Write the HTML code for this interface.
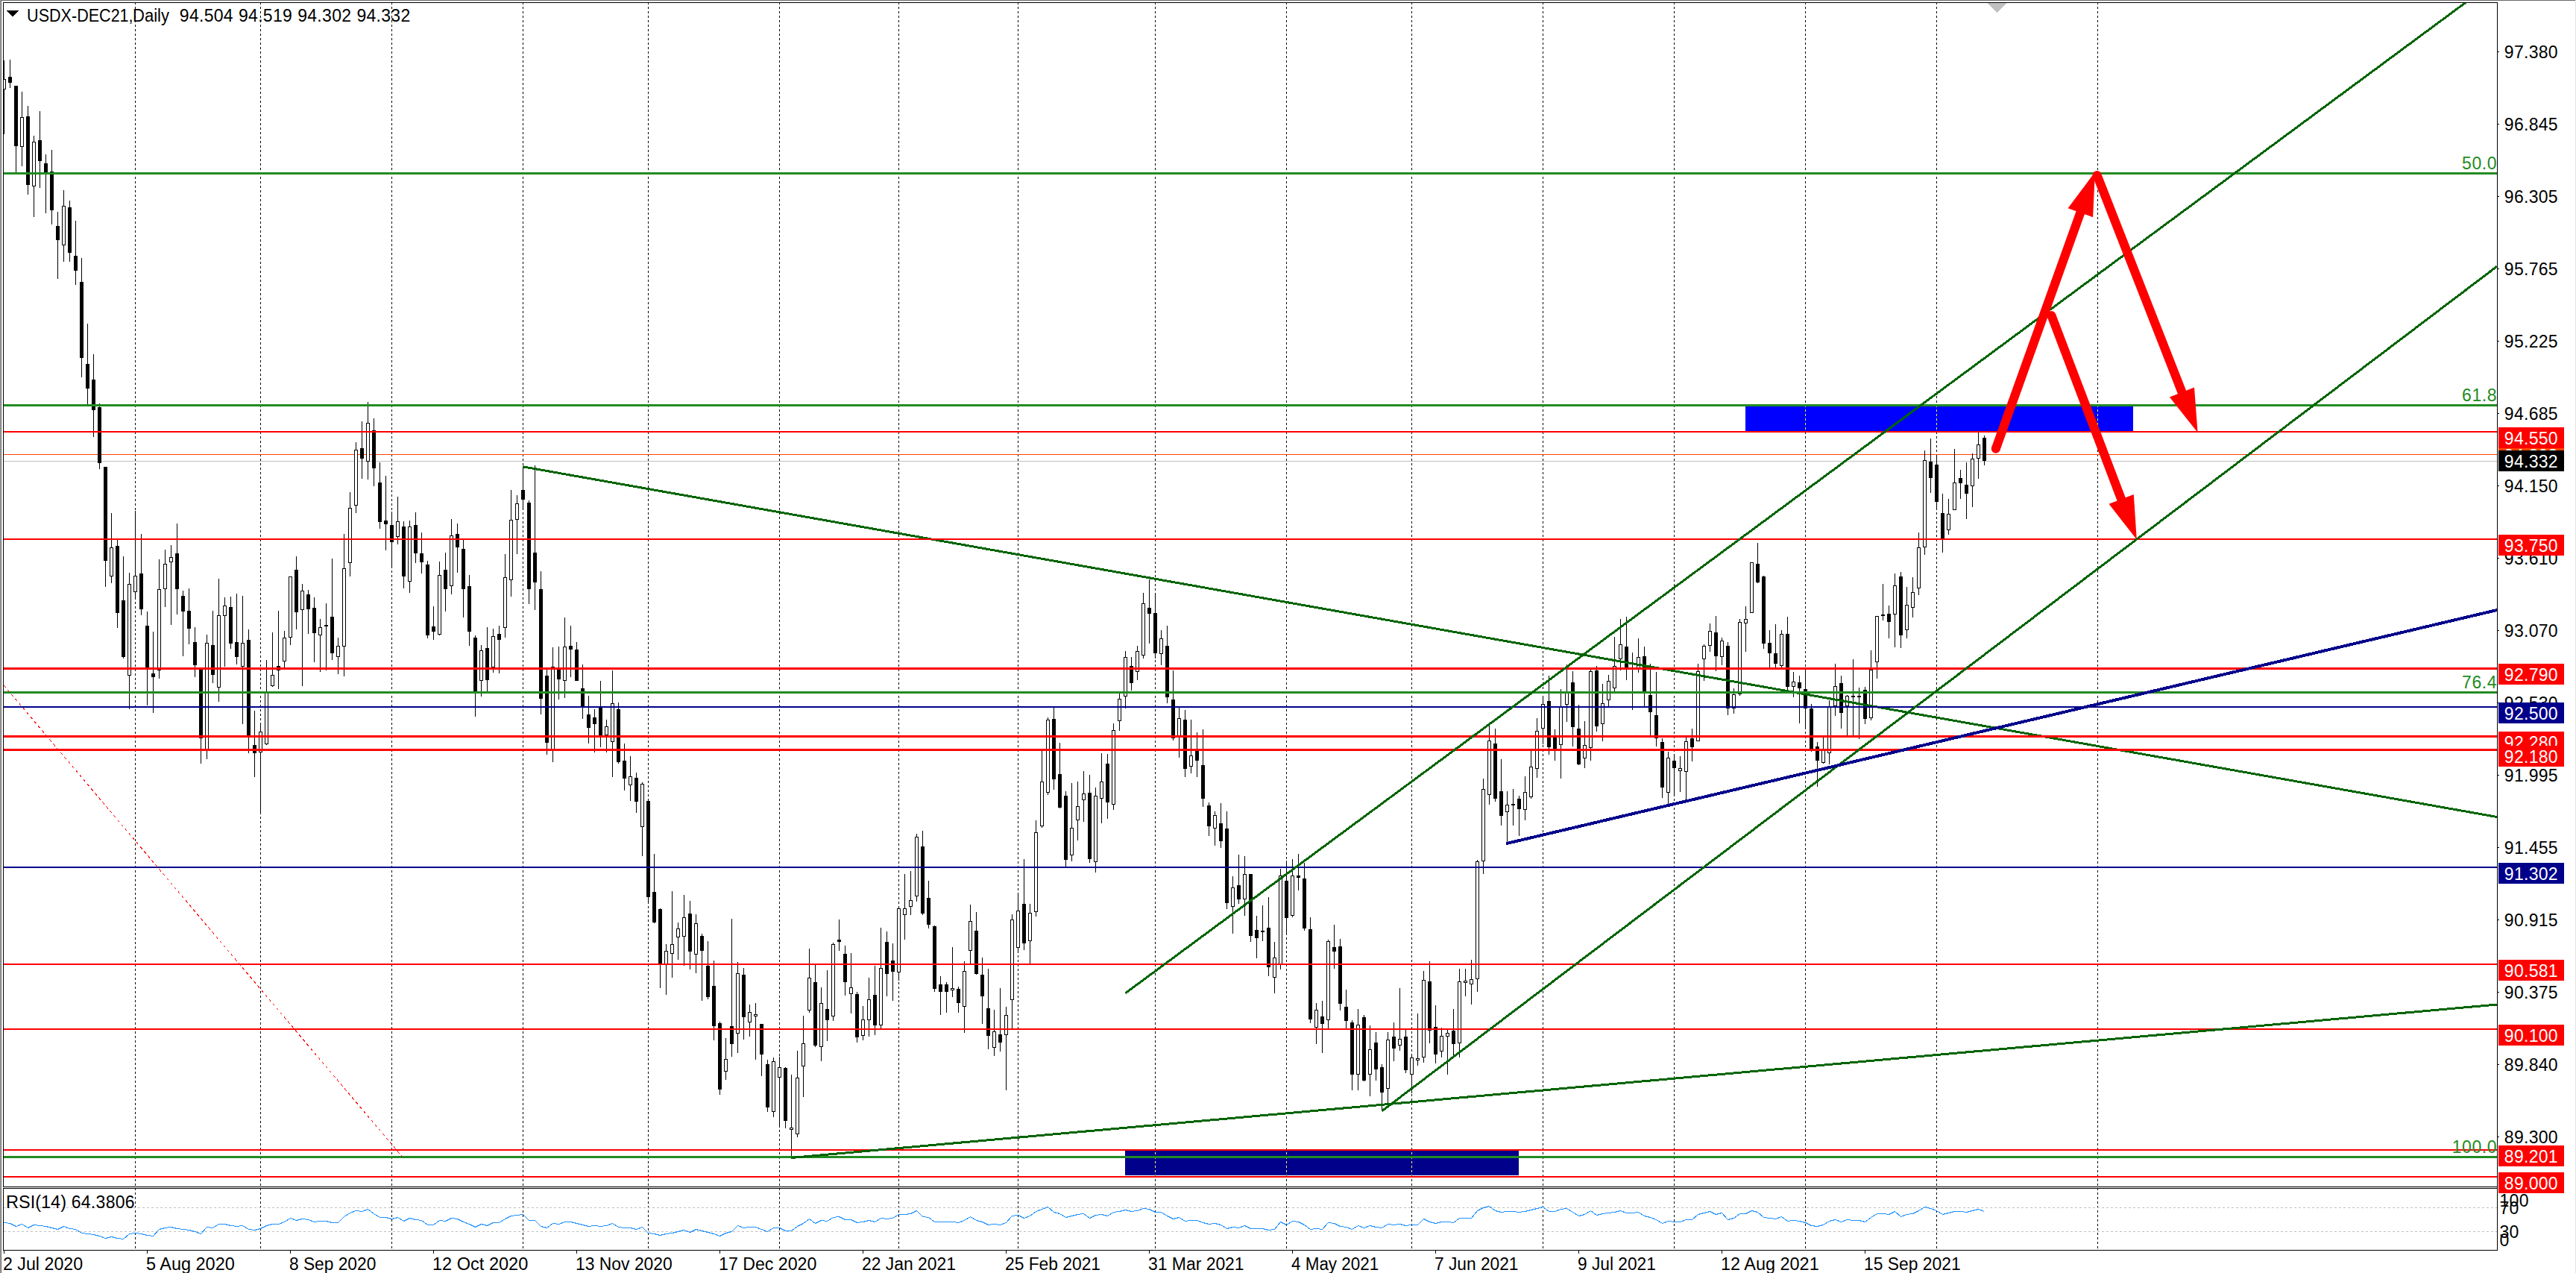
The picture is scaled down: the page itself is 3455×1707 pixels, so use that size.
<!DOCTYPE html>
<html><head><meta charset="utf-8"><title>USDX-DEC21 Daily</title>
<style>html,body{margin:0;padding:0;background:#fff}body{width:3455px;height:1707px;overflow:hidden;font-family:"Liberation Sans",sans-serif}</style>
</head><body>
<svg width="3455" height="1707" viewBox="0 0 3455 1707" style="display:block">
<rect width="3455" height="1707" fill="#fff"/>
<g shape-rendering="crispEdges">
<rect x="0" y="0" width="3455" height="1" fill="#696969"/>
<rect x="0" y="0" width="1" height="1707" fill="#a0a0a0"/>
<rect x="1" y="0" width="1" height="1707" fill="#696969"/>
<rect x="3454" y="0" width="1" height="1707" fill="#e3e3e3"/>
<rect x="2341" y="545" width="520" height="33" fill="#0000ff"/>
<rect x="1509" y="1543" width="528" height="33" fill="#00008b"/>
<path d="M181.5 3V1591M181.5 1593V1676" stroke="#000" stroke-width="1" stroke-dasharray="3 3" fill="none"/>
<path d="M349.5 3V1591M349.5 1593V1676" stroke="#000" stroke-width="1" stroke-dasharray="3 3" fill="none"/>
<path d="M525.5 3V1591M525.5 1593V1676" stroke="#000" stroke-width="1" stroke-dasharray="3 3" fill="none"/>
<path d="M701.5 3V1591M701.5 1593V1676" stroke="#000" stroke-width="1" stroke-dasharray="3 3" fill="none"/>
<path d="M869.5 3V1591M869.5 1593V1676" stroke="#000" stroke-width="1" stroke-dasharray="3 3" fill="none"/>
<path d="M1045.5 3V1591M1045.5 1593V1676" stroke="#000" stroke-width="1" stroke-dasharray="3 3" fill="none"/>
<path d="M1205.5 3V1591M1205.5 1593V1676" stroke="#000" stroke-width="1" stroke-dasharray="3 3" fill="none"/>
<path d="M1365.5 3V1591M1365.5 1593V1676" stroke="#000" stroke-width="1" stroke-dasharray="3 3" fill="none"/>
<path d="M1549.5 3V1591M1549.5 1593V1676" stroke="#000" stroke-width="1" stroke-dasharray="3 3" fill="none"/>
<path d="M1725.5 3V1591M1725.5 1593V1676" stroke="#000" stroke-width="1" stroke-dasharray="3 3" fill="none"/>
<path d="M1893.5 3V1591M1893.5 1593V1676" stroke="#000" stroke-width="1" stroke-dasharray="3 3" fill="none"/>
<path d="M2069.5 3V1591M2069.5 1593V1676" stroke="#000" stroke-width="1" stroke-dasharray="3 3" fill="none"/>
<path d="M2245.5 3V1591M2245.5 1593V1676" stroke="#000" stroke-width="1" stroke-dasharray="3 3" fill="none"/>
<path d="M2421.5 3V1591M2421.5 1593V1676" stroke="#000" stroke-width="1" stroke-dasharray="3 3" fill="none"/>
<path d="M2597.5 3V1591M2597.5 1593V1676" stroke="#000" stroke-width="1" stroke-dasharray="3 3" fill="none"/>
<path d="M2813.5 3V1591M2813.5 1593V1676" stroke="#000" stroke-width="1" stroke-dasharray="3 3" fill="none"/>
<rect x="1549" y="1545" width="1" height="1" fill="#ffff74"/>
<rect x="1549" y="1546" width="1" height="1" fill="#ffff74"/>
<rect x="1549" y="1547" width="1" height="1" fill="#ffff74"/>
<rect x="1549" y="1551" width="1" height="1" fill="#ffff74"/>
<rect x="1549" y="1552" width="1" height="1" fill="#ffff74"/>
<rect x="1549" y="1553" width="1" height="1" fill="#ffff74"/>
<rect x="1549" y="1557" width="1" height="1" fill="#ffff74"/>
<rect x="1549" y="1558" width="1" height="1" fill="#ffff74"/>
<rect x="1549" y="1559" width="1" height="1" fill="#ffff74"/>
<rect x="1549" y="1563" width="1" height="1" fill="#ffff74"/>
<rect x="1549" y="1564" width="1" height="1" fill="#ffff74"/>
<rect x="1549" y="1565" width="1" height="1" fill="#ffff74"/>
<rect x="1549" y="1569" width="1" height="1" fill="#ffff74"/>
<rect x="1549" y="1570" width="1" height="1" fill="#ffff74"/>
<rect x="1549" y="1571" width="1" height="1" fill="#ffff74"/>
<rect x="1549" y="1575" width="1" height="1" fill="#ffff74"/>
<rect x="1725" y="1545" width="1" height="1" fill="#ffff74"/>
<rect x="1725" y="1546" width="1" height="1" fill="#ffff74"/>
<rect x="1725" y="1547" width="1" height="1" fill="#ffff74"/>
<rect x="1725" y="1551" width="1" height="1" fill="#ffff74"/>
<rect x="1725" y="1552" width="1" height="1" fill="#ffff74"/>
<rect x="1725" y="1553" width="1" height="1" fill="#ffff74"/>
<rect x="1725" y="1557" width="1" height="1" fill="#ffff74"/>
<rect x="1725" y="1558" width="1" height="1" fill="#ffff74"/>
<rect x="1725" y="1559" width="1" height="1" fill="#ffff74"/>
<rect x="1725" y="1563" width="1" height="1" fill="#ffff74"/>
<rect x="1725" y="1564" width="1" height="1" fill="#ffff74"/>
<rect x="1725" y="1565" width="1" height="1" fill="#ffff74"/>
<rect x="1725" y="1569" width="1" height="1" fill="#ffff74"/>
<rect x="1725" y="1570" width="1" height="1" fill="#ffff74"/>
<rect x="1725" y="1571" width="1" height="1" fill="#ffff74"/>
<rect x="1725" y="1575" width="1" height="1" fill="#ffff74"/>
<rect x="1893" y="1545" width="1" height="1" fill="#ffff74"/>
<rect x="1893" y="1546" width="1" height="1" fill="#ffff74"/>
<rect x="1893" y="1547" width="1" height="1" fill="#ffff74"/>
<rect x="1893" y="1551" width="1" height="1" fill="#ffff74"/>
<rect x="1893" y="1552" width="1" height="1" fill="#ffff74"/>
<rect x="1893" y="1553" width="1" height="1" fill="#ffff74"/>
<rect x="1893" y="1557" width="1" height="1" fill="#ffff74"/>
<rect x="1893" y="1558" width="1" height="1" fill="#ffff74"/>
<rect x="1893" y="1559" width="1" height="1" fill="#ffff74"/>
<rect x="1893" y="1563" width="1" height="1" fill="#ffff74"/>
<rect x="1893" y="1564" width="1" height="1" fill="#ffff74"/>
<rect x="1893" y="1565" width="1" height="1" fill="#ffff74"/>
<rect x="1893" y="1569" width="1" height="1" fill="#ffff74"/>
<rect x="1893" y="1570" width="1" height="1" fill="#ffff74"/>
<rect x="1893" y="1571" width="1" height="1" fill="#ffff74"/>
<rect x="1893" y="1575" width="1" height="1" fill="#ffff74"/>
<rect x="2421" y="545" width="1" height="1" fill="#ffff00"/>
<rect x="2421" y="549" width="1" height="1" fill="#ffff00"/>
<rect x="2421" y="550" width="1" height="1" fill="#ffff00"/>
<rect x="2421" y="551" width="1" height="1" fill="#ffff00"/>
<rect x="2421" y="555" width="1" height="1" fill="#ffff00"/>
<rect x="2421" y="556" width="1" height="1" fill="#ffff00"/>
<rect x="2421" y="557" width="1" height="1" fill="#ffff00"/>
<rect x="2421" y="561" width="1" height="1" fill="#ffff00"/>
<rect x="2421" y="562" width="1" height="1" fill="#ffff00"/>
<rect x="2421" y="563" width="1" height="1" fill="#ffff00"/>
<rect x="2421" y="567" width="1" height="1" fill="#ffff00"/>
<rect x="2421" y="568" width="1" height="1" fill="#ffff00"/>
<rect x="2421" y="569" width="1" height="1" fill="#ffff00"/>
<rect x="2421" y="573" width="1" height="1" fill="#ffff00"/>
<rect x="2421" y="574" width="1" height="1" fill="#ffff00"/>
<rect x="2421" y="575" width="1" height="1" fill="#ffff00"/>
<rect x="2597" y="545" width="1" height="1" fill="#ffff00"/>
<rect x="2597" y="549" width="1" height="1" fill="#ffff00"/>
<rect x="2597" y="550" width="1" height="1" fill="#ffff00"/>
<rect x="2597" y="551" width="1" height="1" fill="#ffff00"/>
<rect x="2597" y="555" width="1" height="1" fill="#ffff00"/>
<rect x="2597" y="556" width="1" height="1" fill="#ffff00"/>
<rect x="2597" y="557" width="1" height="1" fill="#ffff00"/>
<rect x="2597" y="561" width="1" height="1" fill="#ffff00"/>
<rect x="2597" y="562" width="1" height="1" fill="#ffff00"/>
<rect x="2597" y="563" width="1" height="1" fill="#ffff00"/>
<rect x="2597" y="567" width="1" height="1" fill="#ffff00"/>
<rect x="2597" y="568" width="1" height="1" fill="#ffff00"/>
<rect x="2597" y="569" width="1" height="1" fill="#ffff00"/>
<rect x="2597" y="573" width="1" height="1" fill="#ffff00"/>
<rect x="2597" y="574" width="1" height="1" fill="#ffff00"/>
<rect x="2597" y="575" width="1" height="1" fill="#ffff00"/>
<rect x="2813" y="545" width="1" height="1" fill="#ffff00"/>
<rect x="2813" y="549" width="1" height="1" fill="#ffff00"/>
<rect x="2813" y="550" width="1" height="1" fill="#ffff00"/>
<rect x="2813" y="551" width="1" height="1" fill="#ffff00"/>
<rect x="2813" y="555" width="1" height="1" fill="#ffff00"/>
<rect x="2813" y="556" width="1" height="1" fill="#ffff00"/>
<rect x="2813" y="557" width="1" height="1" fill="#ffff00"/>
<rect x="2813" y="561" width="1" height="1" fill="#ffff00"/>
<rect x="2813" y="562" width="1" height="1" fill="#ffff00"/>
<rect x="2813" y="563" width="1" height="1" fill="#ffff00"/>
<rect x="2813" y="567" width="1" height="1" fill="#ffff00"/>
<rect x="2813" y="568" width="1" height="1" fill="#ffff00"/>
<rect x="2813" y="569" width="1" height="1" fill="#ffff00"/>
<rect x="2813" y="573" width="1" height="1" fill="#ffff00"/>
<rect x="2813" y="574" width="1" height="1" fill="#ffff00"/>
<rect x="2813" y="575" width="1" height="1" fill="#ffff00"/>
<path d="M5 1619.5H3349" stroke="#c0c0c0" stroke-width="1" stroke-dasharray="3 3" fill="none"/>
<path d="M5 1651.5H3349" stroke="#c0c0c0" stroke-width="1" stroke-dasharray="3 3" fill="none"/>
<rect x="5" y="609" width="3344" height="1" fill="#ff4500"/>
<rect x="5" y="618" width="3344" height="1" fill="#c0c0c0"/>
<clipPath id="cm"><rect x="5" y="4" width="3344" height="1587"/></clipPath>
<g clip-path="url(#cm)">
<path d="M5 81h1v99h-1zM13 80h1v38h-1zM21 115h1v117h-1zM29 123h1v100h-1zM37 142h1v119h-1zM45 182h1v109h-1zM53 149h1v103h-1zM61 207h1v79h-1zM69 201h1v100h-1zM77 284h1v90h-1zM85 255h1v96h-1zM93 269h1v82h-1zM101 296h1v86h-1zM109 346h1v160h-1zM117 434h1v108h-1zM125 475h1v111h-1zM133 541h1v88h-1zM141 626h1v161h-1zM149 688h1v94h-1zM157 724h1v118h-1zM165 746h1v137h-1zM173 768h1v183h-1zM181 685h1v119h-1zM189 716h1v109h-1zM197 820h1v126h-1zM205 847h1v109h-1zM213 750h1v160h-1zM221 737h1v77h-1zM229 731h1v107h-1zM237 702h1v122h-1zM245 792h1v88h-1zM253 789h1v75h-1zM261 841h1v67h-1zM269 897h1v127h-1zM277 851h1v167h-1zM285 819h1v97h-1zM293 776h1v165h-1zM301 801h1v93h-1zM309 800h1v70h-1zM317 796h1v95h-1zM325 799h1v172h-1zM333 844h1v166h-1zM341 953h1v89h-1zM349 969h1v123h-1zM357 885h1v114h-1zM365 848h1v73h-1zM373 819h1v105h-1zM381 846h1v49h-1zM389 773h1v92h-1zM397 746h1v98h-1zM405 783h1v137h-1zM413 791h1v59h-1zM421 801h1v87h-1zM429 830h1v71h-1zM437 809h1v90h-1zM445 749h1v136h-1zM453 855h1v49h-1zM461 716h1v191h-1zM469 660h1v113h-1zM477 593h1v95h-1zM485 565h1v77h-1zM493 539h1v104h-1zM501 561h1v91h-1zM509 620h1v89h-1zM517 638h1v100h-1zM525 686h1v76h-1zM533 666h1v64h-1zM541 699h1v90h-1zM549 698h1v97h-1zM557 687h1v68h-1zM565 714h1v55h-1zM573 752h1v104h-1zM581 813h1v45h-1zM589 753h1v99h-1zM597 741h1v79h-1zM605 696h1v101h-1zM613 702h1v66h-1zM621 723h1v105h-1zM629 771h1v95h-1zM637 852h1v109h-1zM645 865h1v69h-1zM653 841h1v86h-1zM661 843h1v59h-1zM669 839h1v64h-1zM677 743h1v112h-1zM685 657h1v143h-1zM693 664h1v79h-1zM701 626h1v58h-1zM709 671h1v139h-1zM717 624h1v194h-1zM725 766h1v192h-1zM733 895h1v117h-1zM741 868h1v154h-1zM749 867h1v71h-1zM757 828h1v108h-1zM765 839h1v69h-1zM773 861h1v52h-1zM781 891h1v73h-1zM789 933h1v64h-1zM797 951h1v58h-1zM805 913h1v89h-1zM813 965h1v44h-1zM821 899h1v143h-1zM829 942h1v82h-1zM837 997h1v63h-1zM845 1014h1v60h-1zM853 1036h1v54h-1zM861 1049h1v99h-1zM869 1072h1v140h-1zM877 1145h1v93h-1zM885 1218h1v107h-1zM893 1266h1v68h-1zM901 1195h1v116h-1zM909 1237h1v50h-1zM917 1200h1v95h-1zM925 1208h1v92h-1zM933 1226h1v79h-1zM941 1252h1v90h-1zM949 1262h1v78h-1zM957 1288h1v107h-1zM965 1370h1v98h-1zM973 1392h1v56h-1zM981 1232h1v185h-1zM989 1290h1v122h-1zM997 1298h1v96h-1zM1005 1347h1v43h-1zM1013 1345h1v76h-1zM1021 1373h1v70h-1zM1029 1421h1v70h-1zM1037 1418h1v80h-1zM1045 1417h1v95h-1zM1053 1431h1v82h-1zM1061 1441h1v112h-1zM1069 1409h1v116h-1zM1077 1362h1v109h-1zM1085 1272h1v86h-1zM1093 1294h1v110h-1zM1101 1324h1v99h-1zM1109 1301h1v95h-1zM1117 1264h1v105h-1zM1125 1233h1v42h-1zM1133 1268h1v67h-1zM1141 1278h1v81h-1zM1149 1330h1v68h-1zM1157 1349h1v46h-1zM1165 1311h1v79h-1zM1173 1295h1v93h-1zM1181 1244h1v135h-1zM1189 1249h1v87h-1zM1197 1265h1v77h-1zM1205 1216h1v99h-1zM1213 1172h1v88h-1zM1221 1168h1v59h-1zM1229 1118h1v91h-1zM1237 1114h1v113h-1zM1245 1181h1v64h-1zM1253 1241h1v89h-1zM1261 1309h1v52h-1zM1269 1317h1v41h-1zM1277 1270h1v67h-1zM1285 1323h1v35h-1zM1293 1289h1v96h-1zM1301 1213h1v79h-1zM1309 1223h1v84h-1zM1317 1284h1v89h-1zM1325 1299h1v108h-1zM1333 1354h1v62h-1zM1341 1325h1v85h-1zM1349 1350h1v112h-1zM1357 1226h1v153h-1zM1365 1198h1v80h-1zM1373 1152h1v122h-1zM1381 1212h1v80h-1zM1389 1100h1v129h-1zM1397 1007h1v103h-1zM1405 962h1v104h-1zM1413 949h1v110h-1zM1421 996h1v88h-1zM1429 1061h1v102h-1zM1437 1050h1v105h-1zM1445 1048h1v79h-1zM1453 1034h1v68h-1zM1461 1039h1v118h-1zM1469 1056h1v114h-1zM1477 1010h1v94h-1zM1485 1011h1v87h-1zM1493 970h1v116h-1zM1501 930h1v50h-1zM1509 873h1v77h-1zM1517 881h1v45h-1zM1525 866h1v46h-1zM1533 795h1v88h-1zM1541 777h1v86h-1zM1549 796h1v87h-1zM1557 845h1v47h-1zM1565 839h1v104h-1zM1573 899h1v94h-1zM1581 949h1v67h-1zM1589 952h1v90h-1zM1597 965h1v72h-1zM1605 982h1v60h-1zM1613 978h1v104h-1zM1621 1076h1v45h-1zM1629 1088h1v46h-1zM1637 1077h1v60h-1zM1645 1088h1v131h-1zM1653 1175h1v77h-1zM1661 1146h1v66h-1zM1669 1148h1v80h-1zM1677 1172h1v91h-1zM1685 1228h1v57h-1zM1693 1214h1v48h-1zM1701 1203h1v106h-1zM1709 1263h1v69h-1zM1717 1165h1v135h-1zM1725 1154h1v100h-1zM1733 1152h1v78h-1zM1741 1145h1v49h-1zM1749 1157h1v91h-1zM1757 1230h1v142h-1zM1765 1345h1v55h-1zM1773 1342h1v70h-1zM1781 1260h1v119h-1zM1789 1240h1v59h-1zM1797 1259h1v96h-1zM1805 1327h1v52h-1zM1813 1368h1v94h-1zM1821 1353h1v109h-1zM1829 1361h1v89h-1zM1837 1375h1v95h-1zM1845 1384h1v65h-1zM1853 1427h1v63h-1zM1861 1384h1v99h-1zM1869 1371h1v52h-1zM1877 1325h1v84h-1zM1885 1381h1v58h-1zM1893 1413h1v53h-1zM1901 1359h1v70h-1zM1909 1302h1v123h-1zM1917 1289h1v110h-1zM1925 1348h1v78h-1zM1933 1378h1v40h-1zM1941 1381h1v60h-1zM1949 1353h1v62h-1zM1957 1299h1v119h-1zM1965 1299h1v37h-1zM1973 1287h1v60h-1zM1981 1153h1v177h-1zM1989 1044h1v128h-1zM1997 973h1v106h-1zM2005 977h1v98h-1zM2013 1018h1v89h-1zM2021 1061h1v70h-1zM2029 1058h1v49h-1zM2037 1067h1v54h-1zM2045 1041h1v59h-1zM2053 1007h1v64h-1zM2061 963h1v80h-1zM2069 934h1v64h-1zM2077 906h1v106h-1zM2085 978h1v42h-1zM2093 924h1v120h-1zM2101 891h1v77h-1zM2109 900h1v101h-1zM2117 945h1v81h-1zM2125 967h1v63h-1zM2133 898h1v122h-1zM2141 893h1v88h-1zM2149 917h1v77h-1zM2157 905h1v42h-1zM2165 854h1v73h-1zM2173 830h1v69h-1zM2181 827h1v85h-1zM2189 875h1v77h-1zM2197 856h1v46h-1zM2205 867h1v80h-1zM2213 890h1v96h-1zM2221 901h1v100h-1zM2229 990h1v80h-1zM2237 1008h1v70h-1zM2245 1011h1v55h-1zM2253 1014h1v48h-1zM2261 989h1v83h-1zM2269 977h1v44h-1zM2277 890h1v104h-1zM2285 864h1v49h-1zM2293 836h1v38h-1zM2301 826h1v74h-1zM2309 855h1v37h-1zM2317 861h1v98h-1zM2325 923h1v34h-1zM2333 830h1v103h-1zM2341 813h1v61h-1zM2349 754h1v68h-1zM2357 728h1v54h-1zM2365 772h1v98h-1zM2373 845h1v50h-1zM2381 837h1v58h-1zM2389 845h1v50h-1zM2397 827h1v98h-1zM2405 901h1v34h-1zM2413 906h1v64h-1zM2421 898h1v80h-1zM2429 944h1v64h-1zM2437 995h1v60h-1zM2445 989h1v35h-1zM2453 939h1v86h-1zM2461 890h1v70h-1zM2469 906h1v71h-1zM2477 932h1v54h-1zM2485 884h1v102h-1zM2493 922h1v69h-1zM2501 921h1v50h-1zM2509 872h1v94h-1zM2517 826h1v84h-1zM2525 783h1v49h-1zM2533 812h1v44h-1zM2541 769h1v99h-1zM2549 767h1v102h-1zM2557 787h1v69h-1zM2565 774h1v54h-1zM2573 714h1v84h-1zM2581 604h1v140h-1zM2589 588h1v73h-1zM2597 610h1v74h-1zM2605 662h1v79h-1zM2613 669h1v48h-1zM2621 602h1v82h-1zM2629 630h1v39h-1zM2637 620h1v76h-1zM2645 608h1v72h-1zM2653 580h1v62h-1zM2661 584h1v40h-1z" fill="#000"/>
<path d="M3 106h5v14h-5zM11 103h5v8h-5zM19 115h5v81h-5zM27 157h5v40h-5zM35 156h5v92h-5zM43 190h5v60h-5zM51 188h5v28h-5zM59 219h5v13h-5zM67 230h5v52h-5zM75 303h5v19h-5zM83 276h5v53h-5zM91 278h5v61h-5zM99 343h5v20h-5zM107 378h5v102h-5zM115 488h5v33h-5zM123 509h5v41h-5zM131 546h5v75h-5zM139 626h5v126h-5zM147 734h5v39h-5zM155 732h5v90h-5zM163 805h5v76h-5zM171 783h5v123h-5zM179 772h5v22h-5zM187 769h5v48h-5zM195 839h5v56h-5zM203 903h5v5h-5zM211 790h5v109h-5zM219 756h5v34h-5zM227 747h5v7h-5zM235 742h5v48h-5zM243 799h5v21h-5zM251 819h5v24h-5zM259 861h5v31h-5zM267 897h5v93h-5zM275 862h5v143h-5zM283 865h5v40h-5zM291 825h5v97h-5zM299 812h5v14h-5zM307 814h5v49h-5zM315 861h5v20h-5zM323 862h5v32h-5zM331 858h5v129h-5zM339 999h5v11h-5zM347 981h5v28h-5zM355 927h5v71h-5zM363 905h5v15h-5zM371 893h5v6h-5zM379 855h5v32h-5zM387 773h5v82h-5zM395 764h5v57h-5zM403 792h5v26h-5zM411 797h5v20h-5zM419 815h5v34h-5zM427 841h5v11h-5zM435 838h5v2h-5zM443 827h5v49h-5zM451 866h5v15h-5zM459 762h5v105h-5zM467 681h5v74h-5zM475 603h5v75h-5zM483 601h5v14h-5zM491 567h5v52h-5zM499 577h5v51h-5zM507 647h5v53h-5zM515 698h5v5h-5zM523 704h5v23h-5zM531 699h5v21h-5zM539 706h5v67h-5zM547 706h5v74h-5zM555 704h5v38h-5zM563 742h5v12h-5zM571 757h5v95h-5zM579 840h5v7h-5zM587 771h5v80h-5zM595 764h5v26h-5zM603 718h5v68h-5zM611 716h5v18h-5zM619 736h5v54h-5zM627 786h5v61h-5zM635 855h5v72h-5zM643 872h5v41h-5zM651 869h5v43h-5zM659 853h5v42h-5zM667 850h5v8h-5zM675 774h5v68h-5zM683 697h5v81h-5zM691 675h5v22h-5zM699 657h5v13h-5zM707 674h5v116h-5zM715 741h5v40h-5zM723 790h5v147h-5zM731 906h5v90h-5zM739 894h5v113h-5zM747 895h5v16h-5zM755 867h5v46h-5zM763 866h5v5h-5zM771 871h5v42h-5zM779 923h5v24h-5zM787 958h5v18h-5zM795 962h5v9h-5zM803 948h5v38h-5zM811 974h5v12h-5zM819 943h5v52h-5zM827 951h5v71h-5zM835 1020h5v24h-5zM843 1041h5v12h-5zM851 1043h5v32h-5zM859 1051h5v58h-5zM867 1074h5v129h-5zM875 1196h5v41h-5zM883 1219h5v75h-5zM891 1275h5v19h-5zM899 1266h5v13h-5zM907 1245h5v12h-5zM915 1230h5v26h-5zM923 1225h5v51h-5zM931 1238h5v42h-5zM939 1255h5v20h-5zM947 1295h5v42h-5zM955 1322h5v54h-5zM963 1372h5v89h-5zM971 1420h5v17h-5zM979 1376h5v24h-5zM987 1305h5v81h-5zM995 1307h5v57h-5zM1003 1357h5v14h-5zM1011 1360h5v3h-5zM1019 1373h5v41h-5zM1027 1427h5v58h-5zM1035 1423h5v68h-5zM1043 1431h5v14h-5zM1051 1432h5v71h-5zM1059 1512h5v3h-5zM1067 1445h5v76h-5zM1075 1399h5v31h-5zM1083 1311h5v44h-5zM1091 1317h5v85h-5zM1099 1345h5v59h-5zM1107 1353h5v15h-5zM1115 1266h5v97h-5zM1123 1260h5v3h-5zM1131 1279h5v38h-5zM1139 1324h5v9h-5zM1147 1333h5v58h-5zM1155 1367h5v22h-5zM1163 1340h5v28h-5zM1171 1334h5v41h-5zM1179 1298h5v77h-5zM1187 1263h5v43h-5zM1195 1288h5v15h-5zM1203 1218h5v86h-5zM1211 1218h5v9h-5zM1219 1207h5v9h-5zM1227 1122h5v80h-5zM1235 1135h5v90h-5zM1243 1204h5v36h-5zM1251 1242h5v84h-5zM1259 1320h5v10h-5zM1267 1320h5v10h-5zM1275 1325h5v3h-5zM1283 1326h5v19h-5zM1291 1302h5v48h-5zM1299 1235h5v40h-5zM1307 1248h5v58h-5zM1315 1307h5v29h-5zM1323 1352h5v37h-5zM1331 1383h5v22h-5zM1339 1387h5v11h-5zM1347 1361h5v27h-5zM1355 1233h5v108h-5zM1363 1221h5v50h-5zM1371 1212h5v53h-5zM1379 1224h5v38h-5zM1387 1116h5v107h-5zM1395 1048h5v60h-5zM1403 965h5v98h-5zM1411 964h5v81h-5zM1419 1038h5v45h-5zM1427 1067h5v86h-5zM1435 1110h5v37h-5zM1443 1081h5v19h-5zM1451 1064h5v9h-5zM1459 1063h5v89h-5zM1467 1067h5v89h-5zM1475 1048h5v23h-5zM1483 1024h5v52h-5zM1491 979h5v100h-5zM1499 937h5v30h-5zM1507 881h5v53h-5zM1515 893h5v23h-5zM1523 873h5v28h-5zM1531 809h5v70h-5zM1539 815h5v8h-5zM1547 822h5v54h-5zM1555 856h5v21h-5zM1563 866h5v69h-5zM1571 938h5v52h-5zM1579 963h5v24h-5zM1587 965h5v66h-5zM1595 1013h5v15h-5zM1603 1007h5v13h-5zM1611 1026h5v45h-5zM1619 1080h5v28h-5zM1627 1093h5v18h-5zM1635 1104h5v24h-5zM1643 1111h5v100h-5zM1651 1190h5v26h-5zM1659 1187h5v19h-5zM1667 1172h5v34h-5zM1675 1172h5v83h-5zM1683 1247h5v11h-5zM1691 1248h5v2h-5zM1699 1244h5v53h-5zM1707 1284h5v27h-5zM1715 1174h5v120h-5zM1723 1181h5v50h-5zM1731 1174h5v54h-5zM1739 1174h5v3h-5zM1747 1178h5v67h-5zM1755 1246h5v121h-5zM1763 1354h5v24h-5zM1771 1363h5v10h-5zM1779 1262h5v106h-5zM1787 1270h5v6h-5zM1795 1269h5v77h-5zM1803 1350h5v19h-5zM1811 1371h5v70h-5zM1819 1374h5v67h-5zM1827 1364h5v85h-5zM1835 1407h5v34h-5zM1843 1398h5v36h-5zM1851 1431h5v34h-5zM1859 1394h5v66h-5zM1867 1390h5v16h-5zM1875 1393h5v9h-5zM1883 1390h5v45h-5zM1891 1418h5v23h-5zM1899 1419h5v3h-5zM1907 1314h5v104h-5zM1915 1316h5v66h-5zM1923 1377h5v37h-5zM1931 1389h5v21h-5zM1939 1385h5v5h-5zM1947 1382h5v18h-5zM1955 1316h5v83h-5zM1963 1315h5v3h-5zM1971 1313h5v7h-5zM1979 1155h5v158h-5zM1987 1058h5v97h-5zM1995 993h5v73h-5zM2003 997h5v74h-5zM2011 1061h5v33h-5zM2019 1079h5v10h-5zM2027 1078h5v2h-5zM2035 1071h5v14h-5zM2043 1062h5v24h-5zM2051 1028h5v41h-5zM2059 980h5v51h-5zM2067 944h5v33h-5zM2075 940h5v62h-5zM2083 989h5v15h-5zM2091 947h5v52h-5zM2099 927h5v18h-5zM2107 915h5v60h-5zM2115 977h5v48h-5zM2123 999h5v18h-5zM2131 900h5v103h-5zM2139 899h5v75h-5zM2147 943h5v28h-5zM2155 913h5v26h-5zM2163 893h5v30h-5zM2171 864h5v20h-5zM2179 867h5v28h-5zM2187 889h5v1h-5zM2195 881h5v15h-5zM2203 880h5v47h-5zM2211 932h5v23h-5zM2219 959h5v31h-5zM2227 995h5v61h-5zM2235 1016h5v47h-5zM2243 1020h5v10h-5zM2251 1030h5v4h-5zM2259 994h5v41h-5zM2267 990h5v12h-5zM2275 900h5v94h-5zM2283 866h5v18h-5zM2291 846h5v20h-5zM2299 848h5v32h-5zM2307 859h5v22h-5zM2315 866h5v84h-5zM2323 931h5v19h-5zM2331 834h5v97h-5zM2339 830h5v6h-5zM2347 754h5v68h-5zM2355 756h5v25h-5zM2363 773h5v90h-5zM2371 862h5v14h-5zM2379 876h5v14h-5zM2387 850h5v43h-5zM2395 850h5v71h-5zM2403 914h5v7h-5zM2411 915h5v8h-5zM2419 924h5v26h-5zM2427 950h5v54h-5zM2435 1001h5v19h-5zM2443 1006h5v17h-5zM2451 947h5v63h-5zM2459 920h5v27h-5zM2467 916h5v40h-5zM2475 933h5v14h-5zM2483 933h5v2h-5zM2491 933h5v2h-5zM2499 925h5v39h-5zM2507 898h5v65h-5zM2515 826h5v62h-5zM2523 824h5v2h-5zM2531 823h5v11h-5zM2539 785h5v39h-5zM2547 773h5v79h-5zM2555 811h5v34h-5zM2563 794h5v21h-5zM2571 734h5v55h-5zM2579 617h5v117h-5zM2587 619h5v22h-5zM2595 623h5v50h-5zM2603 688h5v35h-5zM2611 689h5v22h-5zM2619 647h5v37h-5zM2627 641h5v7h-5zM2635 650h5v12h-5zM2643 615h5v37h-5zM2651 596h5v19h-5zM2659 587h5v31h-5z" fill="#000"/>
<path d="M4 107h3v12h-3zM28 158h3v38h-3zM44 191h3v58h-3zM84 277h3v51h-3zM148 735h3v37h-3zM172 784h3v121h-3zM180 773h3v20h-3zM212 791h3v107h-3zM220 757h3v32h-3zM228 748h3v5h-3zM276 863h3v141h-3zM292 826h3v95h-3zM300 813h3v12h-3zM324 863h3v30h-3zM348 982h3v26h-3zM356 928h3v69h-3zM364 906h3v13h-3zM380 856h3v30h-3zM388 774h3v80h-3zM404 793h3v24h-3zM428 842h3v9h-3zM452 867h3v13h-3zM460 763h3v103h-3zM468 682h3v72h-3zM476 604h3v73h-3zM492 568h3v50h-3zM532 700h3v19h-3zM548 707h3v72h-3zM588 772h3v78h-3zM604 719h3v66h-3zM644 873h3v39h-3zM660 854h3v40h-3zM676 775h3v66h-3zM684 698h3v79h-3zM692 676h3v20h-3zM740 895h3v111h-3zM756 868h3v44h-3zM812 975h3v10h-3zM820 944h3v50h-3zM844 1042h3v10h-3zM860 1052h3v56h-3zM892 1276h3v17h-3zM900 1267h3v11h-3zM908 1246h3v10h-3zM916 1231h3v24h-3zM932 1239h3v40h-3zM972 1421h3v15h-3zM988 1306h3v79h-3zM1004 1358h3v12h-3zM1012 1361h3v1h-3zM1036 1424h3v66h-3zM1044 1432h3v12h-3zM1060 1513h3v1h-3zM1068 1446h3v74h-3zM1076 1400h3v29h-3zM1084 1312h3v42h-3zM1100 1346h3v57h-3zM1116 1267h3v95h-3zM1140 1325h3v7h-3zM1156 1368h3v20h-3zM1164 1341h3v26h-3zM1180 1299h3v75h-3zM1204 1219h3v84h-3zM1212 1219h3v7h-3zM1220 1208h3v7h-3zM1228 1123h3v78h-3zM1276 1326h3v1h-3zM1292 1303h3v46h-3zM1300 1236h3v38h-3zM1332 1384h3v20h-3zM1348 1362h3v25h-3zM1356 1234h3v106h-3zM1364 1222h3v48h-3zM1380 1225h3v36h-3zM1388 1117h3v105h-3zM1396 1049h3v58h-3zM1404 966h3v96h-3zM1436 1111h3v35h-3zM1444 1082h3v17h-3zM1452 1065h3v7h-3zM1468 1068h3v87h-3zM1476 1049h3v21h-3zM1492 980h3v98h-3zM1500 938h3v28h-3zM1508 882h3v51h-3zM1524 874h3v26h-3zM1532 810h3v68h-3zM1556 857h3v19h-3zM1580 964h3v22h-3zM1596 1014h3v13h-3zM1628 1094h3v16h-3zM1652 1191h3v24h-3zM1668 1173h3v32h-3zM1708 1285h3v25h-3zM1716 1175h3v118h-3zM1732 1175h3v52h-3zM1764 1355h3v22h-3zM1780 1263h3v104h-3zM1820 1375h3v65h-3zM1836 1408h3v32h-3zM1860 1395h3v64h-3zM1876 1394h3v7h-3zM1892 1419h3v21h-3zM1900 1420h3v1h-3zM1908 1315h3v102h-3zM1932 1390h3v19h-3zM1940 1386h3v3h-3zM1956 1317h3v81h-3zM1964 1316h3v1h-3zM1972 1314h3v5h-3zM1980 1156h3v156h-3zM1988 1059h3v95h-3zM1996 994h3v71h-3zM2020 1080h3v8h-3zM2044 1063h3v22h-3zM2052 1029h3v39h-3zM2060 981h3v49h-3zM2068 945h3v31h-3zM2092 948h3v50h-3zM2100 928h3v16h-3zM2124 1000h3v16h-3zM2132 901h3v101h-3zM2148 944h3v26h-3zM2156 914h3v24h-3zM2164 894h3v28h-3zM2172 865h3v18h-3zM2196 882h3v13h-3zM2236 1017h3v45h-3zM2252 1031h3v2h-3zM2260 995h3v39h-3zM2276 901h3v92h-3zM2284 867h3v16h-3zM2292 847h3v18h-3zM2308 860h3v20h-3zM2324 932h3v17h-3zM2332 835h3v95h-3zM2340 831h3v4h-3zM2348 755h3v66h-3zM2388 851h3v41h-3zM2404 915h3v5h-3zM2444 1007h3v15h-3zM2452 948h3v61h-3zM2460 921h3v25h-3zM2476 934h3v12h-3zM2508 899h3v63h-3zM2516 827h3v60h-3zM2540 786h3v37h-3zM2556 812h3v32h-3zM2564 795h3v19h-3zM2572 735h3v53h-3zM2580 618h3v115h-3zM2612 690h3v20h-3zM2620 648h3v35h-3zM2644 616h3v35h-3zM2652 597h3v17h-3z" fill="#fff"/>
<path d="M701.4 625.8L3349 1095.5" stroke="#006400" stroke-width="3" fill="none"/>
<rect x="5" y="231" width="3344" height="3" fill="#228b22"/>
<rect x="5" y="542" width="3344" height="3" fill="#228b22"/>
<rect x="5" y="927" width="3344" height="3" fill="#228b22"/>
<rect x="5" y="1550" width="3344" height="3" fill="#228b22"/>
<rect x="5" y="578" width="3344" height="2" fill="#ff0000"/>
<rect x="5" y="722" width="3344" height="2" fill="#ff0000"/>
<rect x="5" y="895" width="3344" height="3" fill="#ff0000"/>
<rect x="5" y="986" width="3344" height="3" fill="#ff0000"/>
<rect x="5" y="1004" width="3344" height="3" fill="#ff0000"/>
<rect x="5" y="1292" width="3344" height="2" fill="#ff0000"/>
<rect x="5" y="1379" width="3344" height="2" fill="#ff0000"/>
<rect x="5" y="1541" width="3344" height="2" fill="#ff0000"/>
<rect x="5" y="1577" width="3344" height="2" fill="#ff0000"/>
<rect x="5" y="947" width="3344" height="2" fill="#00008b"/>
<rect x="5" y="1162" width="3344" height="2" fill="#00008b"/>
<path d="M5.5 919.3L539 1550.6" stroke="#ff0000" stroke-width="1" stroke-dasharray="3.93 3.93" fill="none"/>
<path d="M1061.4 1552.5L3349 1347" stroke="#006400" stroke-width="3" fill="none"/>
<path d="M1509.4 1331.8L3327.5 -11.780045603692786" stroke="#006400" stroke-width="3" fill="none"/>
<path d="M1853.4 1489.9L3349 357.2" stroke="#006400" stroke-width="3" fill="none"/>
<path d="M2020 1131.2L3349 818" stroke="#00008b" stroke-width="4" fill="none"/>
</g>
</g>
<g clip-path="url(#cm)">
<path d="M2676.8 601.7L2791.3 282.4" stroke="#ff0000" stroke-width="12" fill="none"/>
<circle cx="2676.8" cy="601.7" r="6.0" fill="#ff0000"/>
<path d="M2809.9 230.6L2807.1 291.2L2773.6 279.2z" fill="#ff0000"/>
<path d="M2812.6 234.9L2927.6 528.7" stroke="#ff0000" stroke-width="12" fill="none"/>
<circle cx="2812.6" cy="234.9" r="6.0" fill="#ff0000"/>
<path d="M2947.6 579.9L2909.9 532.4L2943.0 519.4z" fill="#ff0000"/>
<path d="M2751.4 422.9L2846.2 672.2" stroke="#ff0000" stroke-width="12" fill="none"/>
<circle cx="2751.4" cy="422.9" r="6.0" fill="#ff0000"/>
<path d="M2865.8 723.6L2828.5 675.7L2861.8 663.1z" fill="#ff0000"/>
</g>
<g shape-rendering="crispEdges">
<rect x="4" y="3" width="3346" height="1" fill="#000"/>
<rect x="4" y="3" width="1" height="1589" fill="#000"/>
<rect x="4" y="1591" width="3346" height="1" fill="#000"/>
<rect x="4" y="1593" width="3346" height="1" fill="#000"/>
<rect x="4" y="1593" width="1" height="84" fill="#000"/>
<rect x="4" y="1676" width="3346" height="1" fill="#000"/>
<rect x="3349" y="3" width="1" height="1674" fill="#000"/>
<path d="M2665 4H2691L2678 17z" fill="#c0c0c0"/>
<path d="M8 14H25L16.5 22.5z" fill="#000"/>
<rect x="3350" y="69" width="2" height="1" fill="#000"/>
<rect x="3350" y="166" width="2" height="1" fill="#000"/>
<rect x="3350" y="263" width="2" height="1" fill="#000"/>
<rect x="3350" y="360" width="2" height="1" fill="#000"/>
<rect x="3350" y="457" width="2" height="1" fill="#000"/>
<rect x="3350" y="554" width="2" height="1" fill="#000"/>
<rect x="3350" y="651" width="2" height="1" fill="#000"/>
<rect x="3350" y="748" width="2" height="1" fill="#000"/>
<rect x="3350" y="845" width="2" height="1" fill="#000"/>
<rect x="3350" y="942" width="2" height="1" fill="#000"/>
<rect x="3350" y="1039" width="2" height="1" fill="#000"/>
<rect x="3350" y="1136" width="2" height="1" fill="#000"/>
<rect x="3350" y="1233" width="2" height="1" fill="#000"/>
<rect x="3350" y="1330" width="2" height="1" fill="#000"/>
<rect x="3350" y="1427" width="2" height="1" fill="#000"/>
<rect x="3350" y="1524" width="2" height="1" fill="#000"/>
<rect x="5" y="1677" width="1" height="4" fill="#000"/>
<rect x="197" y="1677" width="1" height="4" fill="#000"/>
<rect x="389" y="1677" width="1" height="4" fill="#000"/>
<rect x="581" y="1677" width="1" height="4" fill="#000"/>
<rect x="773" y="1677" width="1" height="4" fill="#000"/>
<rect x="965" y="1677" width="1" height="4" fill="#000"/>
<rect x="1157" y="1677" width="1" height="4" fill="#000"/>
<rect x="1349" y="1677" width="1" height="4" fill="#000"/>
<rect x="1541" y="1677" width="1" height="4" fill="#000"/>
<rect x="1733" y="1677" width="1" height="4" fill="#000"/>
<rect x="1925" y="1677" width="1" height="4" fill="#000"/>
<rect x="2117" y="1677" width="1" height="4" fill="#000"/>
<rect x="2309" y="1677" width="1" height="4" fill="#000"/>
<rect x="2501" y="1677" width="1" height="4" fill="#000"/>
</g>
<g font-family="Liberation Sans, sans-serif" font-size="23" fill="#000" letter-spacing="0.3">
<text x="3358.8" y="78.0">97.380</text>
<text x="3358.8" y="175.0">96.845</text>
<text x="3358.8" y="271.9">96.305</text>
<text x="3358.8" y="368.9">95.765</text>
<text x="3358.8" y="465.9">95.225</text>
<text x="3358.8" y="562.9">94.685</text>
<text x="3358.8" y="659.8">94.150</text>
<text x="3358.8" y="756.8">93.610</text>
<text x="3358.8" y="853.8">93.070</text>
<text x="3358.8" y="950.7">92.530</text>
<text x="3358.8" y="1047.7">91.995</text>
<text x="3358.8" y="1144.7">91.455</text>
<text x="3358.8" y="1241.6">90.915</text>
<text x="3358.8" y="1338.6">90.375</text>
<text x="3358.8" y="1435.6">89.840</text>
<text x="3358.8" y="1532.5">89.300</text>
<text x="3352.5" y="1618.3">100</text>
<text x="3352.5" y="1628.3">70</text>
<text x="3352.5" y="1659.8">30</text>
<text x="3352.5" y="1670.8">0</text>
</g>
<g shape-rendering="crispEdges">
<rect x="3351" y="596" width="88" height="28" fill="#ff4500"/>
</g>
<text font-family="Liberation Sans, sans-serif" font-size="23" fill="#fff" letter-spacing="0.3" x="3358.8" y="618.8">94.393</text>
<rect x="3351" y="573" width="88" height="28" fill="#ff0000" shape-rendering="crispEdges"/>
<text font-family="Liberation Sans, sans-serif" font-size="23" fill="#fff" letter-spacing="0.3" x="3358.8" y="595.8">94.550</text>
<rect x="3351" y="717" width="88" height="28" fill="#ff0000" shape-rendering="crispEdges"/>
<text font-family="Liberation Sans, sans-serif" font-size="23" fill="#fff" letter-spacing="0.3" x="3358.8" y="739.8">93.750</text>
<rect x="3351" y="890" width="88" height="28" fill="#ff0000" shape-rendering="crispEdges"/>
<text font-family="Liberation Sans, sans-serif" font-size="23" fill="#fff" letter-spacing="0.3" x="3358.8" y="912.8">92.790</text>
<rect x="3351" y="942" width="88" height="28" fill="#00008b" shape-rendering="crispEdges"/>
<text font-family="Liberation Sans, sans-serif" font-size="23" fill="#fff" letter-spacing="0.3" x="3358.8" y="964.8">92.500</text>
<rect x="3351" y="981" width="88" height="28" fill="#ff0000" shape-rendering="crispEdges"/>
<text font-family="Liberation Sans, sans-serif" font-size="23" fill="#fff" letter-spacing="0.3" x="3358.8" y="1003.8">92.280</text>
<rect x="3351" y="1000" width="88" height="28" fill="#ff0000" shape-rendering="crispEdges"/>
<text font-family="Liberation Sans, sans-serif" font-size="23" fill="#fff" letter-spacing="0.3" x="3358.8" y="1022.8">92.180</text>
<rect x="3351" y="1157" width="88" height="28" fill="#00008b" shape-rendering="crispEdges"/>
<text font-family="Liberation Sans, sans-serif" font-size="23" fill="#fff" letter-spacing="0.3" x="3358.8" y="1179.8">91.302</text>
<rect x="3351" y="1287" width="88" height="28" fill="#ff0000" shape-rendering="crispEdges"/>
<text font-family="Liberation Sans, sans-serif" font-size="23" fill="#fff" letter-spacing="0.3" x="3358.8" y="1309.8">90.581</text>
<rect x="3351" y="1374" width="88" height="28" fill="#ff0000" shape-rendering="crispEdges"/>
<text font-family="Liberation Sans, sans-serif" font-size="23" fill="#fff" letter-spacing="0.3" x="3358.8" y="1396.8">90.100</text>
<rect x="3351" y="1536" width="88" height="28" fill="#ff0000" shape-rendering="crispEdges"/>
<text font-family="Liberation Sans, sans-serif" font-size="23" fill="#fff" letter-spacing="0.3" x="3358.8" y="1558.8">89.201</text>
<rect x="3351" y="1572" width="88" height="28" fill="#ff0000" shape-rendering="crispEdges"/>
<text font-family="Liberation Sans, sans-serif" font-size="23" fill="#fff" letter-spacing="0.3" x="3358.8" y="1594.8">89.000</text>
<rect x="3351" y="604" width="88" height="28" fill="#000" shape-rendering="crispEdges"/>
<text font-family="Liberation Sans, sans-serif" font-size="23" fill="#fff" letter-spacing="0.3" x="3358.8" y="626.8">94.332</text>
<g font-family="Liberation Sans, sans-serif" font-size="23" fill="#228b22" text-anchor="end" letter-spacing="0.6">
<text x="3349.2" y="227">50.0</text>
<text x="3349.2" y="538">61.8</text>
<text x="3349.2" y="923">76.4</text>
<text x="3349.2" y="1546">100.0</text>
</g>
<g font-family="Liberation Sans, sans-serif" font-size="23" fill="#000">
<text x="36.1" y="29" textLength="142.5" lengthAdjust="spacingAndGlyphs">USDX-DEC21,</text>
<text x="178" y="29" textLength="49" lengthAdjust="spacingAndGlyphs">Daily</text>
<text x="240.8" y="29" letter-spacing="0.3">94.504</text>
<text x="320.0" y="29" letter-spacing="0.3">94.519</text>
<text x="399.2" y="29" letter-spacing="0.3">94.302</text>
<text x="478.4" y="29" letter-spacing="0.3">94.332</text>
<text x="8" y="1620" textLength="81" lengthAdjust="spacingAndGlyphs">RSI(14)</text>
<text x="95.7" y="1620" letter-spacing="0.3">64.3806</text>
<text x="4" y="1703" textLength="107.1" lengthAdjust="spacingAndGlyphs">2 Jul 2020</text>
<text x="196" y="1703" textLength="118.8" lengthAdjust="spacingAndGlyphs">5 Aug 2020</text>
<text x="388" y="1703" textLength="116.3" lengthAdjust="spacingAndGlyphs">8 Sep 2020</text>
<text x="580" y="1703" textLength="128.3" lengthAdjust="spacingAndGlyphs">12 Oct 2020</text>
<text x="772" y="1703" textLength="129.8" lengthAdjust="spacingAndGlyphs">13 Nov 2020</text>
<text x="964" y="1703" textLength="131.3" lengthAdjust="spacingAndGlyphs">17 Dec 2020</text>
<text x="1156" y="1703" textLength="125.9" lengthAdjust="spacingAndGlyphs">22 Jan 2021</text>
<text x="1348" y="1703" textLength="128.0" lengthAdjust="spacingAndGlyphs">25 Feb 2021</text>
<text x="1540" y="1703" textLength="128.6" lengthAdjust="spacingAndGlyphs">31 Mar 2021</text>
<text x="1732" y="1703" textLength="117.2" lengthAdjust="spacingAndGlyphs">4 May 2021</text>
<text x="1924" y="1703" textLength="112.5" lengthAdjust="spacingAndGlyphs">7 Jun 2021</text>
<text x="2116" y="1703" textLength="104.8" lengthAdjust="spacingAndGlyphs">9 Jul 2021</text>
<text x="2308" y="1703" textLength="131.7" lengthAdjust="spacingAndGlyphs">12 Aug 2021</text>
<text x="2500" y="1703" textLength="129.6" lengthAdjust="spacingAndGlyphs">15 Sep 2021</text>
</g>
<path d="M5.5 1639.5L13.5 1640.5L21.5 1644.5L29.5 1641.5L37.5 1646.5L45.5 1642.5L53.5 1643.5L61.5 1644.5L69.5 1646.5L77.5 1648.5L85.5 1644.5L93.5 1647.5L101.5 1648.5L109.5 1653.5L117.5 1654.5L125.5 1655.5L133.5 1657.5L141.5 1660.5L149.5 1658.5L157.5 1660.5L165.5 1661.5L173.5 1654.5L181.5 1653.5L189.5 1654.5L197.5 1656.5L205.5 1657.5L213.5 1648.5L221.5 1646.5L229.5 1645.5L237.5 1647.5L245.5 1648.5L253.5 1649.5L261.5 1651.5L269.5 1654.5L277.5 1645.5L285.5 1646.5L293.5 1641.5L301.5 1641.5L309.5 1643.5L317.5 1644.5L325.5 1643.5L333.5 1648.5L341.5 1649.5L349.5 1647.5L357.5 1643.5L365.5 1641.5L373.5 1641.5L381.5 1638.5L389.5 1633.5L397.5 1636.5L405.5 1634.5L413.5 1635.5L421.5 1638.5L429.5 1637.5L437.5 1637.5L445.5 1639.5L453.5 1639.5L461.5 1631.5L469.5 1626.5L477.5 1623.5L485.5 1624.5L493.5 1621.5L501.5 1627.5L509.5 1632.5L517.5 1632.5L525.5 1634.5L533.5 1632.5L541.5 1637.5L549.5 1633.5L557.5 1635.5L565.5 1636.5L573.5 1642.5L581.5 1642.5L589.5 1636.5L597.5 1637.5L605.5 1633.5L613.5 1634.5L621.5 1638.5L629.5 1641.5L637.5 1645.5L645.5 1641.5L653.5 1643.5L661.5 1639.5L669.5 1639.5L677.5 1634.5L685.5 1630.5L693.5 1629.5L701.5 1628.5L709.5 1636.5L717.5 1636.5L725.5 1644.5L733.5 1646.5L741.5 1640.5L749.5 1641.5L757.5 1638.5L765.5 1638.5L773.5 1640.5L781.5 1642.5L789.5 1644.5L797.5 1643.5L805.5 1644.5L813.5 1643.5L821.5 1640.5L829.5 1645.5L837.5 1646.5L845.5 1646.5L853.5 1648.5L861.5 1645.5L869.5 1653.5L877.5 1654.5L885.5 1656.5L893.5 1654.5L901.5 1653.5L909.5 1651.5L917.5 1649.5L925.5 1652.5L933.5 1648.5L941.5 1650.5L949.5 1652.5L957.5 1654.5L965.5 1657.5L973.5 1653.5L981.5 1651.5L989.5 1643.5L997.5 1646.5L1005.5 1645.5L1013.5 1645.5L1021.5 1648.5L1029.5 1651.5L1037.5 1646.5L1045.5 1646.5L1053.5 1650.5L1061.5 1650.5L1069.5 1644.5L1077.5 1640.5L1085.5 1634.5L1093.5 1640.5L1101.5 1636.5L1109.5 1637.5L1117.5 1632.5L1125.5 1631.5L1133.5 1635.5L1141.5 1635.5L1149.5 1639.5L1157.5 1638.5L1165.5 1636.5L1173.5 1638.5L1181.5 1633.5L1189.5 1634.5L1197.5 1633.5L1205.5 1628.5L1213.5 1628.5L1221.5 1627.5L1229.5 1623.5L1237.5 1631.5L1245.5 1632.5L1253.5 1638.5L1261.5 1638.5L1269.5 1638.5L1277.5 1638.5L1285.5 1639.5L1293.5 1636.5L1301.5 1631.5L1309.5 1636.5L1317.5 1638.5L1325.5 1642.5L1333.5 1641.5L1341.5 1642.5L1349.5 1639.5L1357.5 1630.5L1365.5 1629.5L1373.5 1633.5L1381.5 1630.5L1389.5 1624.5L1397.5 1621.5L1405.5 1618.5L1413.5 1625.5L1421.5 1627.5L1429.5 1632.5L1437.5 1630.5L1445.5 1628.5L1453.5 1627.5L1461.5 1633.5L1469.5 1629.5L1477.5 1628.5L1485.5 1630.5L1493.5 1625.5L1501.5 1624.5L1509.5 1622.5L1517.5 1624.5L1525.5 1623.5L1533.5 1620.5L1541.5 1621.5L1549.5 1625.5L1557.5 1625.5L1565.5 1630.5L1573.5 1634.5L1581.5 1632.5L1589.5 1637.5L1597.5 1636.5L1605.5 1636.5L1613.5 1639.5L1621.5 1641.5L1629.5 1640.5L1637.5 1642.5L1645.5 1647.5L1653.5 1645.5L1661.5 1646.5L1669.5 1643.5L1677.5 1647.5L1685.5 1647.5L1693.5 1647.5L1701.5 1649.5L1709.5 1648.5L1717.5 1638.5L1725.5 1642.5L1733.5 1637.5L1741.5 1638.5L1749.5 1642.5L1757.5 1648.5L1765.5 1647.5L1773.5 1648.5L1781.5 1639.5L1789.5 1640.5L1797.5 1644.5L1805.5 1645.5L1813.5 1648.5L1821.5 1643.5L1829.5 1646.5L1837.5 1643.5L1845.5 1645.5L1853.5 1646.5L1861.5 1641.5L1869.5 1642.5L1877.5 1641.5L1885.5 1643.5L1893.5 1642.5L1901.5 1642.5L1909.5 1634.5L1917.5 1638.5L1925.5 1640.5L1933.5 1638.5L1941.5 1638.5L1949.5 1639.5L1957.5 1633.5L1965.5 1633.5L1973.5 1633.5L1981.5 1623.5L1989.5 1619.5L1997.5 1617.5L2005.5 1623.5L2013.5 1625.5L2021.5 1624.5L2029.5 1624.5L2037.5 1625.5L2045.5 1624.5L2053.5 1622.5L2061.5 1620.5L2069.5 1618.5L2077.5 1624.5L2085.5 1624.5L2093.5 1621.5L2101.5 1620.5L2109.5 1625.5L2117.5 1630.5L2125.5 1628.5L2133.5 1623.5L2141.5 1629.5L2149.5 1627.5L2157.5 1626.5L2165.5 1625.5L2173.5 1623.5L2181.5 1626.5L2189.5 1626.5L2197.5 1625.5L2205.5 1630.5L2213.5 1632.5L2221.5 1635.5L2229.5 1640.5L2237.5 1637.5L2245.5 1638.5L2253.5 1638.5L2261.5 1635.5L2269.5 1635.5L2277.5 1628.5L2285.5 1626.5L2293.5 1624.5L2301.5 1628.5L2309.5 1626.5L2317.5 1635.5L2325.5 1633.5L2333.5 1627.5L2341.5 1627.5L2349.5 1623.5L2357.5 1625.5L2365.5 1632.5L2373.5 1633.5L2381.5 1634.5L2389.5 1631.5L2397.5 1637.5L2405.5 1636.5L2413.5 1637.5L2421.5 1639.5L2429.5 1643.5L2437.5 1644.5L2445.5 1642.5L2453.5 1637.5L2461.5 1635.5L2469.5 1638.5L2477.5 1635.5L2485.5 1636.5L2493.5 1636.5L2501.5 1638.5L2509.5 1632.5L2517.5 1627.5L2525.5 1627.5L2533.5 1628.5L2541.5 1624.5L2549.5 1631.5L2557.5 1628.5L2565.5 1627.5L2573.5 1623.5L2581.5 1618.5L2589.5 1620.5L2597.5 1623.5L2605.5 1628.5L2613.5 1626.5L2621.5 1624.5L2629.5 1624.5L2637.5 1625.5L2645.5 1623.5L2653.5 1621.5L2661.5 1624.5" stroke="#1e90ff" stroke-width="1" fill="none" shape-rendering="crispEdges"/>
</svg>
</body></html>
